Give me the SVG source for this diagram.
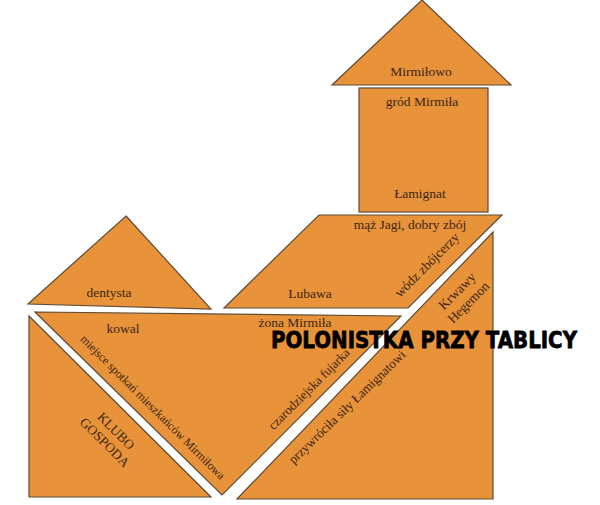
<svg xmlns="http://www.w3.org/2000/svg" width="600" height="505" viewBox="0 0 600 505">
<style>
.s{fill:#E8923A;stroke:#5E4A36;stroke-width:1.2}
.t{font-family:"Liberation Serif","DejaVu Serif","Times New Roman",serif;font-size:13.5px;fill:#3A2616;text-anchor:middle}
.b{font-family:"DejaVu Sans","Liberation Sans",sans-serif;font-weight:bold;font-size:23px;fill:#000;stroke:#000;stroke-width:0.8}
</style>
<rect width="600" height="505" fill="#fff"/>
<g id="dach">
<polygon class="s" points="422,0 511,85 332,85"/>
<text class="t" x="421" y="76">Mirmiłowo</text>
</g>
<g id="grod">
<rect class="s" x="359" y="88" width="129" height="124"/>
<text class="t" x="422" y="106">gród Mirmiła</text>
<text class="t" x="420" y="198">Łamignat</text>
</g>
<g id="lubawa">
<polygon class="s" points="319,215 502,215 408,308 224,308"/>
<text class="t" x="410" y="229">mąż Jagi, dobry zbój</text>
<text class="t" transform="translate(430,268) rotate(-45)">wódz zbójcerzy</text>
<text class="t" x="310" y="298">Lubawa</text>
</g>
<g id="dentysta">
<polygon class="s" points="126,216 211,309 28,304"/>
<text class="t" x="109" y="297">dentysta</text>
</g>
<g id="kowal">
<polygon class="s" points="35,312 401,316 222,495"/>
<text class="t" x="123" y="333">kowal</text>
<text class="t" x="295" y="327">żona Mirmiła</text>
<text class="t" style="font-size:11.8px" transform="translate(150,410) rotate(45)">miejsce spotkań mieszkańców Mirmiłowa</text>
<text class="t" style="font-size:12.8px" transform="translate(312,392) rotate(-45)">czarodziejska  fujarka</text>
</g>
<g id="klubo">
<polygon class="s" points="29,316 211,497 29,497"/>
<g transform="translate(110,437) rotate(45)">
<text class="t" x="0" y="-4">KLUBO</text>
<text class="t" x="0" y="12">GOSPODA</text>
</g>
</g>
<g id="hegemon">
<polygon class="s" points="493,232 493,499 237,499"/>
<g transform="translate(463,297) rotate(-45)">
<text class="t" x="0" y="-4">Krwawy</text>
<text class="t" x="0" y="12">Hegemon</text>
</g>
<text class="t" style="font-size:13px" transform="translate(350,410) rotate(-44)">przywróciła siły Łamignatowi</text>
</g>
<g id="connectors"></g>
<text class="b" x="271" y="348" textLength="306" lengthAdjust="spacingAndGlyphs">POLONISTKA PRZY TABLICY</text>
</svg>
